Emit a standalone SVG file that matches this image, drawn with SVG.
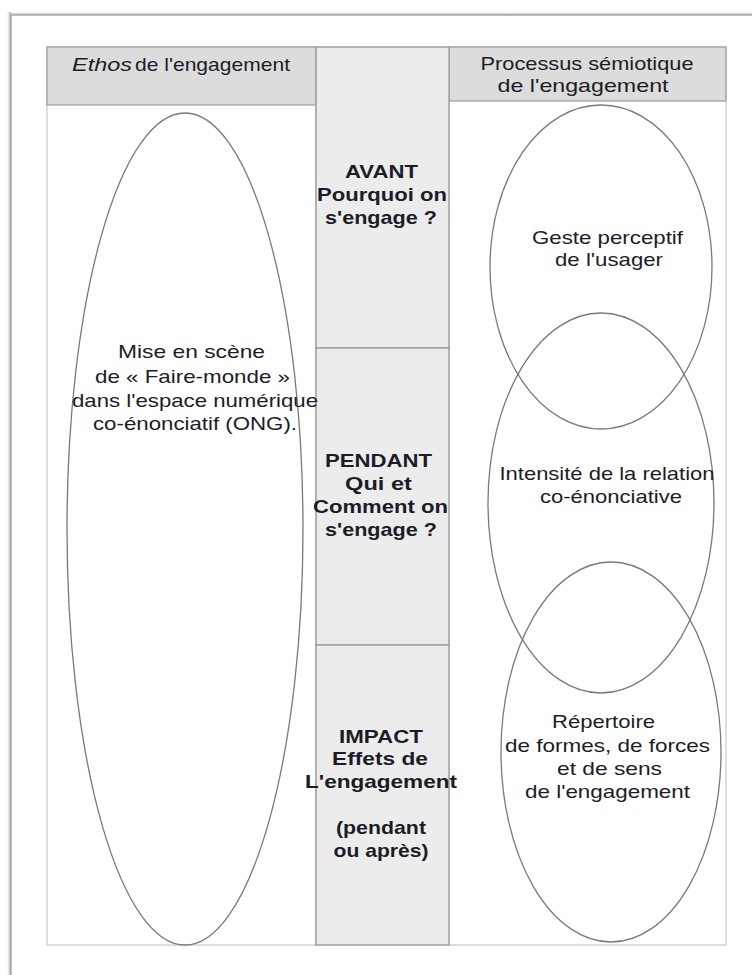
<svg xmlns="http://www.w3.org/2000/svg" width="752" height="975" viewBox="0 0 752 975">
  <defs>
    <linearGradient id="shadowL" x1="0" y1="0" x2="1" y2="0">
      <stop offset="0" stop-color="#ffffff" stop-opacity="0"/>
      <stop offset="1" stop-color="#9a9a9a"/>
    </linearGradient>
    <linearGradient id="shadowT" x1="0" y1="0" x2="0" y2="1">
      <stop offset="0" stop-color="#ffffff" stop-opacity="0"/>
      <stop offset="1" stop-color="#b0b0b0"/>
    </linearGradient>
  </defs>
  <style>
    .t { font-family: "Liberation Sans", Arial, sans-serif; font-size: 19px; fill: #1c1c28; text-anchor: middle; }
    .ts { font-family: "Liberation Sans", Arial, sans-serif; font-size: 19px; fill: #1c1c28; }
    .b { font-weight: bold; }
    .col { fill: #ffffff; stroke: #c8c8c8; stroke-width: 1.2; }
    .hdr { fill: #dcdcdc; stroke: #9c9c9c; stroke-width: 1.2; }
    .mid { fill: #ececec; stroke: #9c9c9c; stroke-width: 1.4; }
    .ell { fill: none; stroke: #7a7a7a; stroke-width: 1.3; }
  </style>

  <!-- page -->
  <rect x="0" y="0" width="752" height="975" fill="#ffffff"/>
  <rect x="6" y="12" width="5" height="963" fill="url(#shadowL)"/>
  <rect x="11" y="11" width="741" height="4" fill="url(#shadowT)"/>
  <rect x="11" y="15" width="760" height="980" fill="#ffffff" stroke="#a8a8a8" stroke-width="1.5"/>

  <!-- columns -->
  <g id="col-left">
    <rect class="col" x="47" y="47" width="269" height="898"/>
    <rect class="hdr" x="47" y="47" width="269" height="58"/>
    <text class="ts" x="72" y="71" textLength="60" lengthAdjust="spacingAndGlyphs" font-style="italic">Ethos</text>
    <text class="ts" x="135" y="71" textLength="155" lengthAdjust="spacingAndGlyphs">de l'engagement</text>
  </g>
  <g id="col-right">
    <rect class="col" x="449" y="47" width="277" height="898"/>
    <rect class="hdr" x="449" y="47" width="277" height="54"/>
    <text class="t" x="587" y="70" textLength="213" lengthAdjust="spacingAndGlyphs">Processus sémiotique</text>
    <text class="t" x="583" y="92" textLength="171" lengthAdjust="spacingAndGlyphs">de l'engagement</text>
  </g>

  <g id="avant">
    <rect class="mid" x="316" y="47" width="133" height="301"/>
    <text class="t b" x="381.5" y="178" textLength="73" lengthAdjust="spacingAndGlyphs">AVANT</text>
    <text class="t b" x="382" y="201" textLength="130" lengthAdjust="spacingAndGlyphs">Pourquoi on</text>
    <text class="t b" x="381" y="224" textLength="112" lengthAdjust="spacingAndGlyphs">s'engage ?</text>
  </g>
  <g id="pendant">
    <rect class="mid" x="316" y="348" width="133" height="297"/>
    <text class="t b" x="378.5" y="467" textLength="107" lengthAdjust="spacingAndGlyphs">PENDANT</text>
    <text class="t b" x="378.5" y="490" textLength="67" lengthAdjust="spacingAndGlyphs">Qui et</text>
    <text class="t b" x="380.5" y="513" textLength="135" lengthAdjust="spacingAndGlyphs">Comment on</text>
    <text class="t b" x="381" y="536" textLength="112" lengthAdjust="spacingAndGlyphs">s'engage ?</text>
  </g>
  <g id="impact">
    <rect class="mid" x="316" y="645" width="133" height="300"/>
    <text class="t b" x="381" y="743" textLength="84" lengthAdjust="spacingAndGlyphs">IMPACT</text>
    <text class="t b" x="380" y="765" textLength="96" lengthAdjust="spacingAndGlyphs">Effets de</text>
    <text class="t b" x="381" y="788" textLength="152" lengthAdjust="spacingAndGlyphs">L'engagement</text>
    <text class="t b" x="381" y="834" textLength="90" lengthAdjust="spacingAndGlyphs">(pendant</text>
    <text class="t b" x="381" y="857" textLength="95" lengthAdjust="spacingAndGlyphs">ou après)</text>
  </g>

  <!-- left ellipse -->
  <g id="ethos">
    <ellipse class="ell" cx="185" cy="529" rx="118" ry="416"/>
    <text class="t" x="191.5" y="358" textLength="147" lengthAdjust="spacingAndGlyphs">Mise en scène</text>
    <text class="t" x="192.5" y="382.5" textLength="195" lengthAdjust="spacingAndGlyphs">de « Faire-monde »</text>
    <text class="t" x="195" y="406.5" textLength="246" lengthAdjust="spacingAndGlyphs">dans l'espace numérique</text>
    <text class="t" x="195" y="430" textLength="204" lengthAdjust="spacingAndGlyphs">co-énonciatif (ONG).</text>
  </g>

  <!-- right ellipses -->
  <g id="geste">
    <ellipse class="ell" cx="601" cy="267" rx="111" ry="162"/>
    <text class="t" x="607.5" y="243.5" textLength="151" lengthAdjust="spacingAndGlyphs">Geste perceptif</text>
    <text class="t" x="609" y="265.5" textLength="108" lengthAdjust="spacingAndGlyphs">de l'usager</text>
  </g>
  <g id="intensite">
    <ellipse class="ell" cx="601" cy="503" rx="113" ry="190"/>
    <text class="t" x="607" y="480" textLength="215" lengthAdjust="spacingAndGlyphs">Intensité de la relation</text>
    <text class="t" x="611" y="503" textLength="142" lengthAdjust="spacingAndGlyphs">co-énonciative</text>
  </g>
  <g id="repertoire">
    <ellipse class="ell" cx="611" cy="752" rx="110" ry="190"/>
    <text class="t" x="603.5" y="728" textLength="103" lengthAdjust="spacingAndGlyphs">Répertoire</text>
    <text class="t" x="607.5" y="752" textLength="205" lengthAdjust="spacingAndGlyphs">de formes, de forces</text>
    <text class="t" x="609.5" y="775" textLength="105" lengthAdjust="spacingAndGlyphs">et de sens</text>
    <text class="t" x="607.5" y="798" textLength="165" lengthAdjust="spacingAndGlyphs">de l'engagement</text>
  </g>

  <g id="connectors"></g>
</svg>
